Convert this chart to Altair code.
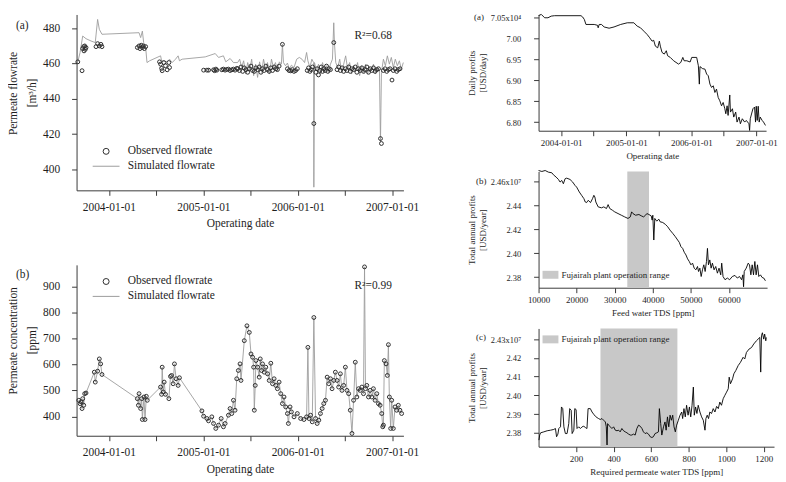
import altair as alt
import pandas as pd

SERIF = "Liberation Serif"
INK = "#1e1e1e"
AXIS_INK = "#3a3a3a"

# ---------------- left (a): permeate flowrate [m3/h]  (decimal year, value) ----------------
flow_sim_pts = [
    (2003.671, 460.9), (2003.695, 466.2), (2003.723, 475.5), (2003.758, 474.0), (2003.811, 472.7),
    (2003.856, 471.8), (2003.881, 484.9), (2003.899, 479.3), (2003.927, 476.5), (2004.320, 477.4),
    (2004.337, 474.6), (2004.355, 478.3), (2004.369, 471.8), (2004.390, 469.0), (2004.404, 460.5),
    (2004.432, 461.5), (2004.548, 464.3), (2004.559, 461.5), (2004.618, 460.9), (2004.643, 462.4),
    (2004.671, 460.5), (2004.706, 462.4), (2004.734, 464.3), (2004.748, 461.5), (2004.776, 462.4),
    (2005.021, 463.7), (2005.127, 465.6), (2005.162, 463.4), (2005.214, 464.3), (2005.239, 460.9),
    (2005.285, 462.8), (2005.320, 460.5),
    (2005.365, 460.5), (2005.386, 462.4), (2005.407, 457.7), (2005.428, 461.5), (2005.450, 454.0),
    (2005.471, 460.5), (2005.492, 455.9), (2005.513, 462.4), (2005.534, 453.1), (2005.555, 459.6),
    (2005.576, 452.1), (2005.597, 460.9), (2005.618, 454.9), (2005.639, 462.4), (2005.660, 456.8),
    (2005.681, 460.5), (2005.702, 454.0), (2005.723, 462.4), (2005.744, 457.7), (2005.765, 460.5),
    (2005.786, 455.9), (2005.807, 460.9), (2005.828, 459.6), (2005.839, 470.8), (2005.850, 460.5),
    (2005.871, 458.7), (2005.892, 460.2), (2005.913, 456.8), (2005.934, 459.0), (2005.962, 457.7),
    (2005.990, 462.4), (2006.018, 463.4), (2006.046, 462.4), (2006.074, 460.5), (2006.095, 466.2),
    (2006.109, 461.5), (2006.130, 457.7), (2006.151, 462.4), (2006.169, 460.5), (2006.172, 390.0),
    (2006.179, 460.5), (2006.200, 455.9), (2006.221, 459.6), (2006.243, 454.0), (2006.264, 460.5),
    (2006.285, 455.9), (2006.306, 458.7), (2006.327, 454.9), (2006.348, 459.6), (2006.369, 462.4),
    (2006.383, 483.0), (2006.390, 471.8), (2006.404, 460.5), (2006.425, 457.7), (2006.446, 462.4),
    (2006.467, 454.9), (2006.488, 459.6), (2006.509, 464.3), (2006.530, 456.8), (2006.551, 460.5),
    (2006.572, 454.0), (2006.593, 458.7), (2006.614, 455.9), (2006.635, 460.5), (2006.657, 453.1),
    (2006.678, 458.7), (2006.699, 454.9), (2006.720, 459.6), (2006.741, 454.0), (2006.762, 457.7),
    (2006.783, 455.9), (2006.804, 459.6), (2006.825, 454.0), (2006.846, 457.7), (2006.867, 455.9),
    (2006.878, 415.6), (2006.888, 454.9), (2006.909, 462.4), (2006.930, 458.7), (2006.951, 464.3),
    (2006.972, 459.6), (2006.993, 463.4), (2007.014, 457.7), (2007.035, 462.4), (2007.057, 458.7),
    (2007.078, 461.5), (2007.099, 456.8), (2007.120, 460.5),
]
flow_obs_pts = [
    (2003.671, 460.9), (2003.716, 455.9), (2003.723, 468.4), (2003.733, 469.5), (2003.737, 467.1),
    (2003.744, 469.9), (2003.751, 468.0), (2003.758, 469.0), (2003.864, 469.5), (2003.881, 471.2),
    (2003.899, 469.9), (2003.916, 470.8), (2003.927, 469.5), (2004.302, 469.0), (2004.320, 469.9),
    (2004.330, 468.4), (2004.344, 470.3), (2004.355, 469.0), (2004.365, 469.9), (2004.376, 468.4),
    (2004.390, 469.5), (2004.537, 460.9), (2004.548, 459.6), (2004.559, 457.2), (2004.565, 455.9),
    (2004.583, 460.5), (2004.600, 458.7), (2004.618, 456.4), (2004.636, 460.5), (2004.643, 457.7),
    (2005.004, 456.2), (2005.039, 456.2), (2005.057, 456.2), (2005.109, 456.4), (2005.120, 455.9),
    (2005.134, 456.8), (2005.144, 456.2), (2005.197, 456.4), (2005.214, 456.8), (2005.232, 456.2),
    (2005.249, 456.6), (2005.267, 456.8), (2005.284, 456.0), (2005.302, 456.4), (2005.320, 456.8),
    (2005.337, 456.2), (2005.355, 457.2),
    (2005.365, 457.0), (2005.383, 456.0), (2005.400, 458.0), (2005.418, 455.5), (2005.435, 457.5),
    (2005.453, 456.5), (2005.471, 455.0), (2005.488, 457.0), (2005.506, 458.5), (2005.523, 456.0),
    (2005.541, 455.5), (2005.558, 457.5), (2005.576, 456.5), (2005.593, 458.0), (2005.611, 455.0),
    (2005.628, 457.0), (2005.646, 456.0), (2005.664, 458.5), (2005.681, 456.5), (2005.699, 455.5),
    (2005.716, 457.5), (2005.734, 456.0), (2005.751, 458.0), (2005.769, 457.0), (2005.786, 456.5),
    (2005.804, 458.5), (2005.839, 470.8), (2005.892, 457.0), (2005.909, 456.0), (2005.927, 455.8),
    (2005.944, 456.5), (2005.962, 455.5), (2005.979, 456.0), (2005.997, 457.0), (2006.102, 456.0),
    (2006.116, 457.5), (2006.130, 455.5), (2006.144, 456.5), (2006.158, 458.0), (2006.172, 426.0),
    (2006.193, 455.0), (2006.207, 457.0), (2006.221, 453.5), (2006.235, 456.0), (2006.250, 458.0),
    (2006.264, 455.5), (2006.278, 457.0), (2006.292, 456.0), (2006.306, 458.5), (2006.320, 455.5),
    (2006.334, 457.0), (2006.348, 456.5), (2006.383, 471.8), (2006.418, 456.5), (2006.435, 458.0),
    (2006.453, 456.0), (2006.471, 457.5), (2006.488, 455.5), (2006.506, 457.0), (2006.523, 456.0),
    (2006.541, 458.0), (2006.558, 455.5), (2006.576, 457.0), (2006.593, 456.5), (2006.611, 458.0),
    (2006.628, 455.0), (2006.646, 457.0), (2006.664, 456.0), (2006.681, 457.5), (2006.699, 455.5),
    (2006.716, 456.5), (2006.734, 458.0), (2006.751, 455.0), (2006.769, 457.0), (2006.786, 456.0),
    (2006.804, 457.5), (2006.821, 455.5), (2006.839, 456.5), (2006.857, 457.0), (2006.878, 417.5),
    (2006.888, 414.7), (2006.909, 456.0), (2006.927, 457.0), (2006.944, 455.5), (2006.962, 456.5),
    (2006.979, 457.0), (2007.000, 450.6), (2007.014, 456.0), (2007.032, 457.0), (2007.050, 455.5),
    (2007.067, 456.5), (2007.085, 457.0),
]

# ---------------- left (b): permeate concentration [ppm] ----------------
conc_obs_pts = [
    (2003.681, 462.5), (2003.695, 449.7), (2003.706, 456.2), (2003.716, 430.7), (2003.723, 468.8),
    (2003.734, 443.4), (2003.744, 487.9), (2003.758, 490.5), (2003.846, 570.6), (2003.856, 532.4),
    (2003.881, 574.4), (2003.899, 621.5), (2003.913, 602.4), (2003.927, 561.7), (2004.302, 468.8),
    (2004.313, 443.4), (2004.320, 487.9), (2004.337, 430.7), (2004.348, 468.8), (2004.355, 388.7),
    (2004.372, 475.2), (2004.383, 388.7), (2004.397, 477.9), (2004.407, 462.5), (2004.548, 513.4),
    (2004.559, 485.4), (2004.565, 589.7), (2004.576, 494.3), (2004.586, 532.4), (2004.600, 485.4),
    (2004.636, 468.8), (2004.653, 554.1), (2004.664, 558.0), (2004.681, 526.1), (2004.695, 602.4),
    (2004.713, 545.2), (2004.734, 519.7), (2004.748, 549.0), (2004.986, 421.8), (2005.004, 401.4),
    (2005.039, 392.5), (2005.056, 383.6), (2005.091, 398.9), (2005.109, 373.4), (2005.133, 354.3),
    (2005.162, 367.0), (2005.190, 392.5), (2005.214, 360.7), (2005.232, 373.4), (2005.267, 405.2),
    (2005.284, 430.7), (2005.302, 411.6), (2005.320, 462.5), (2005.337, 424.3), (2005.355, 545.2),
    (2005.372, 577.0), (2005.390, 602.4), (2005.400, 538.8), (2005.435, 691.5), (2005.463, 748.7),
    (2005.488, 723.3), (2005.506, 640.6), (2005.523, 627.9), (2005.534, 589.7), (2005.541, 424.3),
    (2005.551, 519.7), (2005.558, 615.1), (2005.576, 589.7), (2005.593, 551.5), (2005.604, 621.5),
    (2005.618, 577.0), (2005.628, 602.4), (2005.646, 570.6), (2005.663, 589.7), (2005.681, 564.3),
    (2005.699, 538.8), (2005.716, 604.9), (2005.734, 526.1), (2005.751, 545.2), (2005.769, 519.7),
    (2005.786, 507.0), (2005.804, 532.4), (2005.821, 487.9), (2005.839, 449.7), (2005.856, 475.2),
    (2005.874, 437.0), (2005.892, 411.6), (2005.902, 373.4), (2005.920, 437.0), (2005.934, 417.9),
    (2005.962, 398.9), (2005.997, 411.6), (2006.032, 392.5), (2006.067, 388.7), (2006.095, 398.9),
    (2006.109, 665.8), (2006.120, 392.5), (2006.137, 405.2), (2006.155, 379.8), (2006.172, 780.5),
    (2006.190, 392.5), (2006.207, 373.4), (2006.225, 386.1), (2006.242, 411.6), (2006.260, 430.7),
    (2006.277, 449.7), (2006.295, 462.5), (2006.313, 551.5), (2006.330, 526.1), (2006.348, 545.2),
    (2006.365, 507.0), (2006.383, 538.8), (2006.400, 570.6), (2006.418, 538.8), (2006.435, 513.4),
    (2006.453, 564.3), (2006.470, 500.6), (2006.488, 519.7), (2006.506, 589.7), (2006.523, 500.6),
    (2006.541, 487.9), (2006.558, 424.3), (2006.576, 335.2), (2006.593, 462.5), (2006.611, 608.8),
    (2006.628, 475.2), (2006.646, 507.0), (2006.663, 500.6), (2006.681, 513.4), (2006.698, 487.9),
    (2006.709, 975.0), (2006.719, 507.0), (2006.733, 519.7), (2006.751, 475.2), (2006.768, 500.6),
    (2006.786, 475.2), (2006.803, 507.0), (2006.821, 462.5), (2006.839, 487.9), (2006.856, 449.7),
    (2006.874, 443.4), (2006.891, 411.6), (2006.902, 360.7), (2006.909, 367.0), (2006.919, 615.1),
    (2006.937, 602.4), (2006.951, 558.0), (2006.962, 676.2), (2006.972, 475.2), (2006.986, 354.3),
    (2006.997, 462.5), (2007.014, 354.3), (2007.032, 437.0), (2007.049, 424.3), (2007.067, 443.4),
    (2007.084, 424.3), (2007.102, 411.6),
]
conc_sim_pts = list(conc_obs_pts)  # the simulated curve runs through the observed points

# ---------------- right (a): daily profits [x10^4 USD/day] ----------------
profit_day_pts = [
    (2003.654, 7.0555), (2003.695, 7.058), (2003.746, 7.050), (2003.797, 7.050), (2003.847, 7.054),
    (2003.898, 7.055), (2004.305, 7.055), (2004.330, 7.052), (2004.356, 7.046), (2004.381, 7.034),
    (2004.508, 7.034), (2004.559, 7.032), (2004.569, 7.026), (2004.585, 7.034), (2004.620, 7.034),
    (2004.661, 7.028), (2004.737, 7.025), (2004.813, 7.028), (2004.915, 7.034), (2005.017, 7.038),
    (2005.118, 7.038), (2005.169, 7.030), (2005.220, 7.026), (2005.271, 7.018), (2005.322, 7.010),
    (2005.362, 7.002), (2005.398, 6.994), (2005.423, 6.996), (2005.449, 6.982), (2005.485, 6.978),
    (2005.510, 6.994), (2005.525, 6.982), (2005.551, 6.967), (2005.586, 6.963), (2005.617, 6.971),
    (2005.637, 6.959), (2005.678, 6.955), (2005.729, 6.947), (2005.805, 6.939), (2005.840, 6.943),
    (2005.871, 6.955), (2005.891, 6.947), (2005.932, 6.947), (2005.983, 6.944), (2006.008, 6.955),
    (2006.084, 6.955), (2006.110, 6.935), (2006.125, 6.891), (2006.135, 6.933), (2006.176, 6.928),
    (2006.211, 6.927), (2006.237, 6.915), (2006.262, 6.911), (2006.288, 6.891), (2006.313, 6.883),
    (2006.339, 6.887), (2006.364, 6.871), (2006.389, 6.879), (2006.415, 6.859), (2006.440, 6.851),
    (2006.466, 6.839), (2006.491, 6.847), (2006.517, 6.832), (2006.532, 6.820), (2006.552, 6.839),
    (2006.567, 6.816), (2006.593, 6.865), (2006.603, 6.824), (2006.634, 6.832), (2006.654, 6.812),
    (2006.684, 6.824), (2006.705, 6.800), (2006.735, 6.812), (2006.756, 6.796), (2006.786, 6.808),
    (2006.822, 6.800), (2006.847, 6.804), (2006.888, 6.796), (2006.898, 6.780), (2006.908, 6.808),
    (2006.949, 6.832), (2006.974, 6.836), (2006.989, 6.800), (2007.000, 6.838), (2007.015, 6.804),
    (2007.030, 6.838), (2007.045, 6.800), (2007.061, 6.812), (2007.091, 6.804), (2007.112, 6.800),
    (2007.142, 6.792),
]

# ---------------- right (b): total annual profit [x10^7 USD/year] vs feed TDS [ppm] ----------------
feed_profit_pts = [
    (10000, 2.4694), (10870, 2.4686), (11740, 2.4694), (12610, 2.4680), (13480, 2.4675), (13910, 2.4658),
    (14610, 2.4639), (15220, 2.4619), (15650, 2.4597), (16090, 2.4611), (16520, 2.4583), (16960, 2.4625),
    (17390, 2.4630), (18260, 2.4619), (18960, 2.4597), (19570, 2.4569), (20000, 2.4555), (20700, 2.4514),
    (21300, 2.4486), (21910, 2.4458), (22260, 2.4430), (22610, 2.4425), (23040, 2.4444), (23650, 2.4425),
    (24170, 2.4458), (24520, 2.4486), (24780, 2.4472), (25040, 2.4430), (25650, 2.4389), (26520, 2.4381),
    (27130, 2.4389), (27830, 2.4375), (28260, 2.4408), (28700, 2.4375), (29390, 2.4361), (30000, 2.4347),
    (30870, 2.4333), (31740, 2.4319), (32610, 2.4305), (33480, 2.4292), (34090, 2.4305), (34440, 2.4347),
    (34780, 2.4333), (35480, 2.4319), (36350, 2.4325), (36960, 2.4314), (37570, 2.4305), (38090, 2.4319),
    (38440, 2.4333), (38960, 2.4325), (39570, 2.4314), (39830, 2.4278), (40000, 2.4319), (40260, 2.4111),
    (40520, 2.4292), (41040, 2.4269), (41570, 2.4286), (41910, 2.4264), (42610, 2.4258), (43310, 2.4242),
    (43910, 2.4222), (44520, 2.4194), (45220, 2.4167), (45910, 2.4139), (46520, 2.4111), (46960, 2.4091),
    (47390, 2.4055), (47830, 2.4041), (48260, 2.4008), (48700, 2.3986), (49130, 2.3953), (49570, 2.3931),
    (50000, 2.3903), (50430, 2.3917), (50870, 2.3875), (51300, 2.3861), (51740, 2.3889), (52000, 2.3847),
    (52350, 2.3875), (52700, 2.3805), (53040, 2.3861), (53390, 2.3903), (53740, 2.3847), (54090, 2.3931),
    (54350, 2.4041), (54610, 2.3903), (54960, 2.3944), (55310, 2.3875), (55650, 2.3917), (56090, 2.3861),
    (56520, 2.3889), (56960, 2.3833), (57390, 2.3875), (57830, 2.3819), (58090, 2.3917), (58440, 2.3805),
    (58960, 2.3778), (59570, 2.3792), (60170, 2.3778), (60870, 2.3805), (61570, 2.3814), (62180, 2.3792),
    (62780, 2.3805), (63310, 2.3778), (63650, 2.3819), (63830, 2.3719), (64000, 2.3847), (64520, 2.3875),
    (65050, 2.3917), (65390, 2.3903), (65740, 2.3819), (66090, 2.3903), (66440, 2.3819), (66790, 2.3931),
    (67130, 2.3819), (67480, 2.3903), (67830, 2.3805), (68260, 2.3819), (68700, 2.3797), (69130, 2.3792),
    (69570, 2.3769),
]

# ---------------- right (c): total annual profit [x10^7 USD/year] vs required permeate TDS [ppm] ----------------
perm_profit_pts = [
    (2, 2.3761), (6, 2.3788), (11, 2.3800), (28, 2.3805), (46, 2.3811), (64, 2.3814), (81, 2.3818),
    (90, 2.3823), (96, 2.3779), (103, 2.3793), (108, 2.3823), (117, 2.3832), (122, 2.3938), (129, 2.3929),
    (135, 2.3832), (143, 2.3796), (152, 2.3796), (161, 2.3849), (166, 2.3929), (174, 2.3920), (179, 2.3796),
    (188, 2.3814), (193, 2.3929), (200, 2.3924), (205, 2.3823), (214, 2.3832), (223, 2.3823), (232, 2.3832),
    (241, 2.3835), (250, 2.3828), (258, 2.3823), (264, 2.3929), (276, 2.3929), (285, 2.3911), (294, 2.3899),
    (303, 2.3888), (312, 2.3881), (320, 2.3876), (329, 2.3871), (338, 2.3876), (347, 2.3867), (356, 2.3858),
    (361, 2.3832), (365, 2.3735), (368, 2.3849), (374, 2.3841), (382, 2.3832), (391, 2.3823), (400, 2.3832),
    (409, 2.3814), (418, 2.3811), (427, 2.3814), (435, 2.3805), (444, 2.3823), (453, 2.3811), (462, 2.3805),
    (471, 2.3800), (480, 2.3793), (489, 2.3788), (497, 2.3788), (506, 2.3793), (515, 2.3788), (524, 2.3823),
    (533, 2.3841), (542, 2.3835), (551, 2.3823), (559, 2.3805), (568, 2.3796), (577, 2.3800), (586, 2.3793),
    (595, 2.3779), (604, 2.3775), (612, 2.3779), (621, 2.3796), (630, 2.3800), (639, 2.3805), (644, 2.3929),
    (651, 2.3849), (657, 2.3788), (666, 2.3832), (674, 2.3858), (680, 2.3814), (687, 2.3885), (694, 2.3832),
    (701, 2.3894), (708, 2.3867), (715, 2.3894), (722, 2.3832), (729, 2.3805), (736, 2.3841), (745, 2.3867),
    (754, 2.3894), (763, 2.3911), (768, 2.3876), (775, 2.3929), (782, 2.3885), (789, 2.3947), (797, 2.3894),
    (804, 2.3938), (811, 2.3885), (818, 2.3947), (825, 2.4044), (830, 2.3894), (837, 2.3938), (844, 2.3903),
    (851, 2.3947), (860, 2.3911), (869, 2.3885), (878, 2.3867), (887, 2.3814), (892, 2.3876), (899, 2.3894),
    (906, 2.3876), (913, 2.3911), (922, 2.3903), (931, 2.3929), (940, 2.3911), (949, 2.3941), (958, 2.3929),
    (966, 2.3964), (975, 2.3947), (984, 2.3982), (993, 2.4000), (1002, 2.4017), (1011, 2.4035), (1016, 2.4097),
    (1023, 2.4062), (1034, 2.4088), (1041, 2.4115), (1051, 2.4132), (1064, 2.4159), (1076, 2.4176),
    (1090, 2.4203), (1099, 2.4194), (1108, 2.4229), (1122, 2.4247), (1135, 2.4255), (1147, 2.4274),
    (1161, 2.4291), (1170, 2.4300), (1179, 2.4309), (1184, 2.4124), (1188, 2.4318), (1193, 2.4334),
    (1200, 2.4300), (1205, 2.4327), (1211, 2.4291), (1214, 2.4309),
]

fujairah_feed_range = [33300, 39000]
fujairah_perm_range = [330, 740]
series_names = ["Observed flowrate", "Simulated flowrate"]
band_name = "Fujairah plant operation range"
panel_labels = ["(a)", "(b)", "(c)"]
r2_labels = ["R²=0.68", "R²=0.99"]
r2_year = 2006.80
r2_values = [475.7, 900.0]

# ---------------- helpers ----------------
BASE = pd.Timestamp("2004-01-01")


def to_date(y):
    return (BASE + pd.Timedelta(days=(y - 2004.0) * 365.25)).strftime("%Y-%m-%dT%H:%M:%S")


def date_frame(pts, series=None):
    df = pd.DataFrame(pts, columns=["year", "value"])
    df["date"] = [to_date(y) for y in df["year"]]
    if series is not None:
        df["series"] = series
    return df


L_FS = 11.5
R_FS = 9
R_LFS = 8.5
OBS_COLOR = "#2e2e2e"
SIM_COLOR = "#9c9c9c"
TICK_DATES = [alt.DateTime(year=y, month=m, date=1) for y in (2004, 2005, 2006) for m in (1, 7)] + [
    alt.DateTime(year=2007, month=1, date=1)]
DATE_LABEL = "month(datum.value) == 0 ? timeFormat(datum.value, '%Y-%m-%d') : ''"
LEFT_DOMAIN = [alt.DateTime(year=2003, month=8, date=29), alt.DateTime(year=2007, month=2, date=14)]
RIGHT_DOMAIN = [alt.DateTime(year=2003, month=8, date=27), alt.DateTime(year=2007, month=2, date=25)]


def x_axis(fs, title, **kw):
    return alt.Axis(title=title, tickSize=5, labelFontSize=fs, titleFontSize=fs, labelOverlap=False,
                    labelFlush=False, **kw)


def free_text(text, fs, px, py, angle=0, align="left"):
    return alt.Chart(pd.DataFrame({"t": [text]})).mark_text(
        font=SERIF, fontSize=fs, color=INK, align=align, baseline="middle", angle=angle
    ).encode(x=alt.value(px), y=alt.value(py), text="t:N")


color_scale = alt.Scale(domain=series_names, range=[OBS_COLOR, SIM_COLOR])
shape_scale = alt.Scale(domain=series_names, range=["circle", "M-4.5,0L4.5,0"])


def flow_legend(ly):
    return alt.Legend(title=None, orient="none", legendX=24, legendY=ly, direction="vertical",
                      labelFont=SERIF, labelFontSize=L_FS, labelColor=INK, symbolSize=36,
                      symbolStrokeWidth=1, labelOffset=16, rowPadding=2, labelLimit=300)


def left_panel(sim_df, obs_df, ydomain, yvalues, ytitle, yunit, title_y, legend_y, r2_df, height, label, label_y):
    x = alt.X("date:T", scale=alt.Scale(domain=LEFT_DOMAIN),
              axis=x_axis(L_FS, "Operating date", values=TICK_DATES, labelExpr=DATE_LABEL,
                          labelPadding=6, titlePadding=5))
    y = alt.Y("value:Q", scale=alt.Scale(domain=ydomain, nice=False, zero=False),
              axis=alt.Axis(values=yvalues, title=ytitle, tickSize=5, labelPadding=12, labelOverlap=False,
                            labelFontSize=L_FS, titleFontSize=L_FS, titleX=-58, titleY=title_y))
    line = alt.Chart(sim_df).mark_line(strokeWidth=0.9, color=SIM_COLOR).encode(x=x, y=y)
    pts = alt.Chart(obs_df).mark_point(filled=False, size=15, strokeWidth=1.0, opacity=1).encode(
        x=x, y=y,
        color=alt.Color("series:N", scale=color_scale, legend=flow_legend(legend_y)),
        shape=alt.Shape("series:N", scale=shape_scale, legend=flow_legend(legend_y)))
    txt = alt.Chart(r2_df).mark_text(font=SERIF, fontSize=L_FS, color=INK, align="center",
                                     baseline="middle").encode(x=x, y=y, text="label:N")
    lab = free_text(label, L_FS, -61, label_y)
    unit = free_text(yunit, L_FS, -43.5, title_y, angle=270, align="center")
    return alt.layer(line, pts, txt, lab, unit).properties(width=329, height=height)


r2a = pd.DataFrame({"date": [to_date(r2_year)], "value": [r2_values[0]], "label": [r2_labels[0]]})
r2b = pd.DataFrame({"date": [to_date(r2_year)], "value": [r2_values[1]], "label": [r2_labels[1]]})

left_a = left_panel(date_frame(flow_sim_pts, series_names[1]), date_frame(flow_obs_pts, series_names[0]),
                    [388.2, 487.7], [400, 420, 440, 460, 480], "Permeate flowrate", "[m³/h]", 79, 132,
                    r2a, 177, panel_labels[0], 12)
left_b = left_panel(date_frame(conc_sim_pts, series_names[1]), date_frame(conc_obs_pts, series_names[0]),
                    [326.3, 982.8], [400, 500, 600, 700, 800, 900], "Permeate concentration", "[ppm]",
                    76, 11, r2b, 172, panel_labels[1], 10)

left_col = alt.vconcat(left_a, left_b, spacing=75, bounds="flush").resolve_scale(
    color="independent", shape="independent").resolve_legend(color="independent", shape="independent")


def y_axis_r(values, title, top_label, fmt):
    expr = f"datum.value > {values[-1] - 1e-6} ? '{top_label}' : format(datum.value, '{fmt}')"
    return alt.Axis(values=values, title=title, labelExpr=expr, tickSize=5, labelPadding=13, titlePadding=3,
                    labelOverlap=False, labelFontSize=R_LFS, titleFontSize=R_FS)


# right (a)
ra_x = alt.X("date:T", scale=alt.Scale(domain=RIGHT_DOMAIN),
             axis=x_axis(R_FS, "Operating date", values=TICK_DATES, labelExpr=DATE_LABEL, labelPadding=3,
                         titlePadding=4))
ra_y = alt.Y("value:Q", scale=alt.Scale(domain=[6.7793, 7.0579], nice=False, zero=False),
             axis=y_axis_r([6.80, 6.85, 6.90, 6.95, 7.00, 7.05], ["Daily profits", "[USD/day]"], "7.05x10⁴",
                           ".2f"))
right_a = alt.layer(
    alt.Chart(date_frame(profit_day_pts)).mark_line(color="#000000", strokeWidth=0.9).encode(x=ra_x, y=ra_y),
    free_text(panel_labels[0], R_FS, -65, 3),
).properties(width=229, height=117)


def band_legend(lx, ly, loff):
    return alt.Legend(title=None, orient="none", legendX=lx, legendY=ly, labelFont=SERIF, labelFontSize=R_FS,
                      labelColor=INK, symbolType="M-1,-0.5H1V0.5H-1Z", symbolSize=256, symbolStrokeWidth=0,
                      labelOffset=loff, labelLimit=300)


def band_panel(pts, band, xdom, xvals, xtitle, ydom, yvals, top_label, width, height, lx, ly, loff, label, label_y):
    df = pd.DataFrame(pts, columns=["tds", "profit"])
    band_df = pd.DataFrame({"start": [band[0]], "end": [band[1]], "label": [band_name]})
    x_ax = x_axis(R_FS, xtitle, values=xvals, format="d", labelPadding=3, titlePadding=4)
    xs = alt.Scale(domain=xdom, nice=False, zero=False)
    rect = alt.Chart(band_df).mark_rect().encode(
        x=alt.X("start:Q", scale=xs, axis=x_ax), x2="end:Q",
        color=alt.Color("label:N", scale=alt.Scale(domain=[band_name], range=["#c8c8c8"]),
                        legend=band_legend(lx, ly, loff)))
    line = alt.Chart(df).mark_line(color="#000000", strokeWidth=0.9).encode(
        x=alt.X("tds:Q", scale=xs, axis=x_ax),
        y=alt.Y("profit:Q", scale=alt.Scale(domain=ydom, nice=False, zero=False),
                axis=y_axis_r(yvals, ["Total annual profits", "[USD/year]"], top_label, ".2f")))
    return alt.layer(rect, line, free_text(label, R_FS, -63, label_y)).properties(width=width, height=height)


right_b = band_panel(feed_profit_pts, fujairah_feed_range, [10000, 70000],
                     [10000, 20000, 30000, 40000, 50000, 60000], "Feed water TDS [ppm]",
                     [2.3711, 2.4686], [2.38, 2.40, 2.42, 2.44, 2.46], "2.46x10⁷", 230, 117, 4, 96, 3,
                     panel_labels[1], 10)
right_c = band_panel(perm_profit_pts, fujairah_perm_range, [0, 1255], [200, 400, 600, 800, 1000, 1200],
                     "Required permeate water TDS [ppm]", [2.3726, 2.4357],
                     [2.38, 2.39, 2.40, 2.41, 2.42, 2.43], "2.43x10⁷", 237, 119, 4, 3, 3, panel_labels[2], 9)

right_col = alt.vconcat(right_a, right_b, right_c, spacing=41, bounds="flush").resolve_scale(
    color="independent").resolve_legend(color="independent")

chart = alt.hconcat(left_col, right_col, spacing=48).resolve_scale(
    color="independent", shape="independent").resolve_legend(color="independent", shape="independent").properties(
    padding={"left": 0, "top": 3, "right": 0, "bottom": 0}
).configure(font=SERIF).configure_view(stroke=None).configure_axis(
    grid=False, domainColor=AXIS_INK, tickColor=AXIS_INK, labelColor=INK, titleColor=INK, labelFont=SERIF,
    titleFont=SERIF, titleFontWeight="normal", domainWidth=1, tickWidth=1
).configure_legend(labelFont=SERIF)

chart.save("out.html", embed_options={"renderer": "svg", "actions": False})
